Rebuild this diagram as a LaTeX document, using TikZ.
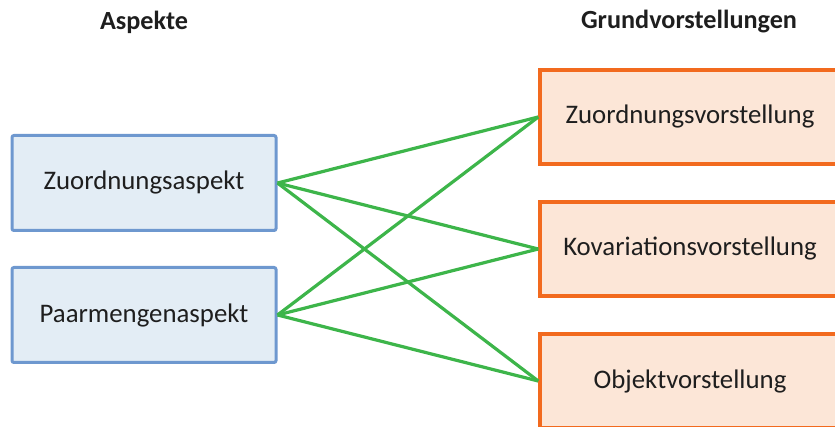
\documentclass[tikz,border=0pt]{standalone}
\usepackage{fontspec}
\setmainfont{Carlito}
\definecolor{bluebd}{HTML}{6E98CF}
\definecolor{bluefill}{HTML}{E3EDF5}
\definecolor{orabd}{HTML}{F26A1E}
\definecolor{orafill}{HTML}{FCE6D7}
\definecolor{linkgreen}{HTML}{3DB54A}
\definecolor{txt}{HTML}{1E1E1E}
\tikzset{
  aspbox/.style={draw=bluebd, fill=bluefill, line width=3pt, rounded corners=2pt,
    minimum width=264pt, minimum height=95pt, inner sep=0pt, text=txt,
    font=\fontsize{26.8}{30}\selectfont},
  gvbox/.style={draw=orabd, fill=orafill, line width=3.5pt,
    minimum width=300pt, minimum height=94pt, inner sep=0pt, text=txt,
    font=\fontsize{26.8}{30}\selectfont},
  title/.style={text=txt, font=\fontsize{26.2}{30}\selectfont\bfseries, inner sep=0pt},
  link/.style={draw=linkgreen, line width=3.2pt}
}
\begin{document}
\begin{tikzpicture}[x=1pt,y=-1pt]
\useasboundingbox (0,0) rectangle (835,427);
\clip (0,0) rectangle (835,427);
\node[title] (t1) at (144,22) {Aspekte};
\node[title] (t2) at (689,22) {Grundvorstellungen};
\node[aspbox] (a1) at (144,183) {Zuordnungsaspekt};
\node[aspbox] (a2) at (144,315) {Paarmengenaspekt};
\node[gvbox] (g1) at (690,117) {Zuordnungsvorstellung};
\node[gvbox] (g2) at (690,249) {Kovariationsvorstellung};
\node[gvbox] (g3) at (690,381) {Objektvorstellung};
\foreach \a in {a1,a2}{
  \foreach \g in {g1,g2,g3}{
    \draw[link] (\a.east) -- (\g.west);
  }
}
\end{tikzpicture}
\end{document}
